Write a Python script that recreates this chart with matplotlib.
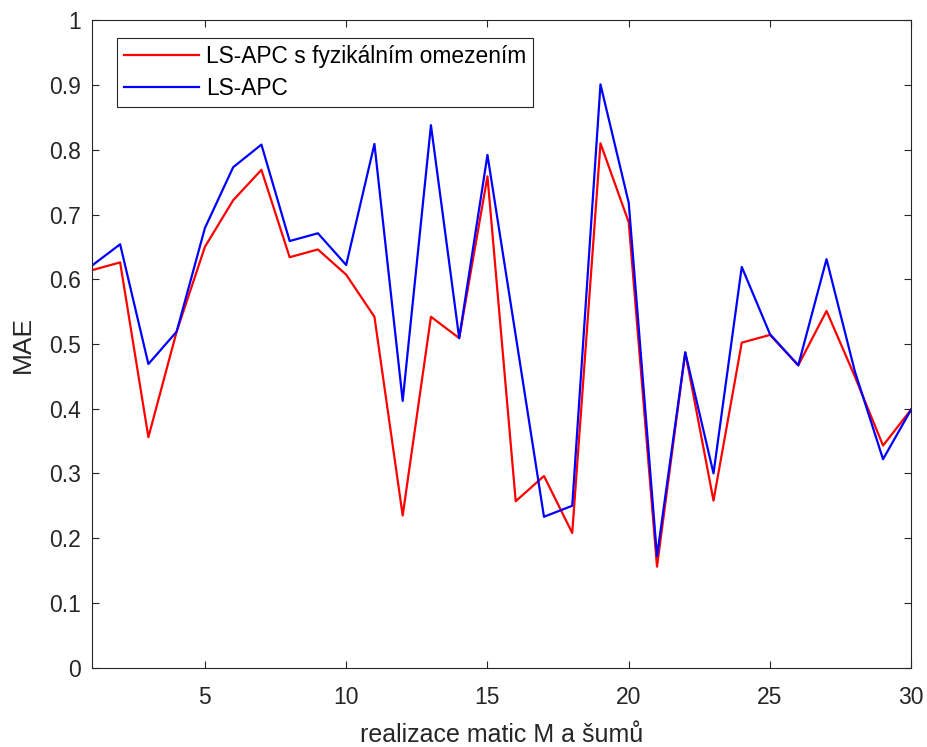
import matplotlib.pyplot as plt
import numpy as np

plt.rcParams['font.family'] = ['Liberation Sans', 'DejaVu Sans']

realizace = np.arange(1, 31)
mae_omezeni = [0.614, 0.626, 0.356, 0.519, 0.650, 0.722, 0.769, 0.634, 0.646, 0.607,
               0.542, 0.235, 0.542, 0.509, 0.759, 0.257, 0.296, 0.208, 0.810, 0.688,
               0.156, 0.487, 0.258, 0.502, 0.514, 0.467, 0.551, 0.450, 0.343, 0.399]
mae_lsapc = [0.621, 0.654, 0.469, 0.519, 0.679, 0.773, 0.808, 0.659, 0.671, 0.622,
             0.809, 0.412, 0.838, 0.509, 0.792, 0.513, 0.233, 0.250, 0.901, 0.718,
             0.172, 0.487, 0.300, 0.619, 0.515, 0.467, 0.631, 0.458, 0.322, 0.399]

xticks = [5, 10, 15, 20, 25, 30]
yticks = np.arange(0, 1.01, 0.1)
ytick_labels = ['0', '0.1', '0.2', '0.3', '0.4', '0.5', '0.6', '0.7', '0.8', '0.9', '1']

fig = plt.figure(figsize=(9.28, 7.47), dpi=100)
ax = fig.add_axes([0.099, 0.1063, 0.883, 0.8665])

ax.plot(realizace, mae_omezeni, color='#ff0000', lw=1.6, label='LS-APC s fyzikálním omezením')
ax.plot(realizace, mae_lsapc, color='#0000ff', lw=1.6, label='LS-APC')

ax.set_xlim(1, 30)
ax.set_ylim(0, 1)
ax.set_xticks(xticks)
ax.set_yticks(yticks)
ax.set_yticklabels(ytick_labels)

ax.tick_params(direction='in', top=True, right=True, length=5, width=0.8,
               colors='#262626', labelsize=16.5)
ax.tick_params(axis='x', pad=13)
ax.tick_params(axis='y', pad=8)
for s in ax.spines.values():
    s.set_color('#262626')
    s.set_linewidth(0.8)

ax.set_xlabel('realizace matic M a šumů', fontsize=18, color='#262626', labelpad=10)
ax.set_ylabel('MAE', fontsize=19, color='#262626', labelpad=10)

leg = ax.legend(loc='upper left', bbox_to_anchor=(0.0305, 0.973), fontsize=16.4,
                fancybox=False, framealpha=1, edgecolor='#262626',
                handlelength=3.3, handletextpad=0.3, borderpad=0.3, labelspacing=0.42,
                borderaxespad=0)
leg.get_frame().set_linewidth(0.8)

fig.savefig('out.png', dpi=100)
